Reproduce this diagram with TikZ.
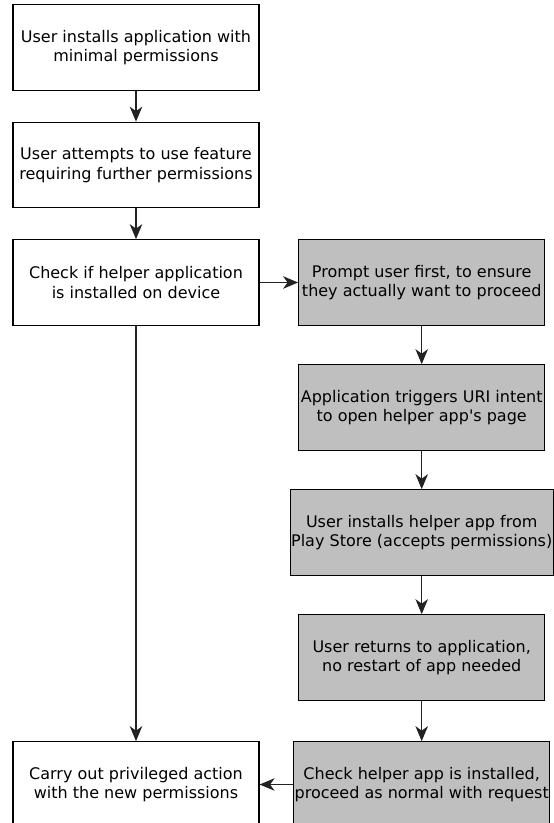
\documentclass[tikz,border=0pt]{standalone}
\usepackage{fontspec}
\setmainfont{DejaVu Sans}
\usetikzlibrary{arrows.meta, positioning}
\definecolor{grisCaja}{HTML}{BFBFBF}
\definecolor{grisFlecha}{HTML}{222222}

\begin{document}
\begin{tikzpicture}[
        node distance=30.8pt,
        paso/.style={draw=black, fill=white, line width=1.2pt, minimum width=246pt,
            minimum height=85.5pt, inner xsep=1pt, align=center,
            font=\fontsize{16}{19.5}\selectfont},
        ayuda/.style={paso, fill=grisCaja},
        rel/.style={-{Stealth[length=15pt, width=12.5pt, inset=4.5pt]}, line width=1.2pt, grisFlecha}
    ]
        \useasboundingbox (0,0) rectangle (554pt,-823pt);
        \node[paso] (a) at (136pt,-47.5pt) {User installs application with\\minimal permissions};
        \node[paso, below=of a] (b) {User attempts to use feature\\requiring further permissions};
        \node[paso, below=of b] (c) {Check if helper application\\is installed on device};
        \node[ayuda, right=38.5pt of c] (d) {Prompt user first, to ensure\\they actually want to proceed};
        \node[ayuda, below=38.3pt of d] (e) {Application triggers URI intent\\to open helper app\textquotesingle s page};
        \node[ayuda, below=38.3pt of e] (f) {User installs helper app from\\Play Store (accepts permissions)};
        \node[ayuda, below=38.3pt of f] (g) {User returns to application,\\no restart of app needed};
        \node[ayuda, below=40.3pt of g] (h) {Check helper app is installed,\\proceed as normal with request};
        \node[paso] (i) at (c |- h) {Carry out privileged action\\with the new permissions};
        \draw[rel] (a)--(b); \draw[rel] (b)--(c); \draw[rel] (c)--(d);
        \draw[rel] (d)--(e); \draw[rel] (e)--(f); \draw[rel] (f)--(g); \draw[rel] (g)--(h);
        \draw[rel] (c)--(i); \draw[rel] (h)--(i);
    \end{tikzpicture}
\end{document}
